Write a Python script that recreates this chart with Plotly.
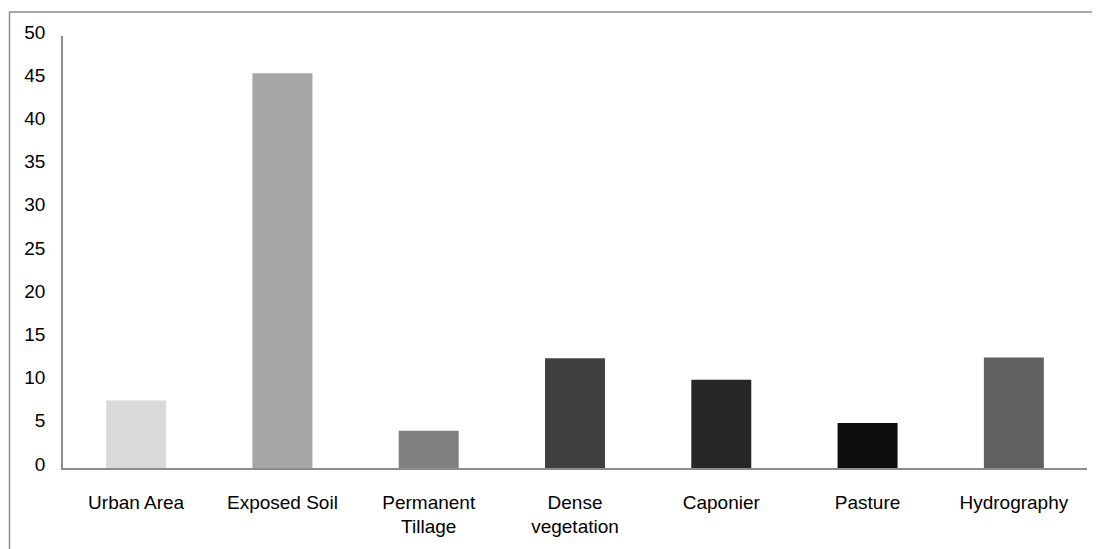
import plotly.graph_objects as go

categories = ["Urban Area", "Exposed Soil", "Permanent<br>Tillage", "Dense<br>vegetation",
              "Caponier", "Pasture", "Hydrography"]
values = [7.8, 45.7, 4.3, 12.7, 10.2, 5.2, 12.8]
bar_colors = ["#d9d9d9", "#a6a6a6", "#808080", "#404040", "#262626", "#0d0d0d", "#606060"]
y_ticks = [0, 5, 10, 15, 20, 25, 30, 35, 40, 45, 50]

# page body has an 8px default margin; figure is sized to fit the window
W, H = 1092, 541
ml, mr, mt, mb = 55, 13, 28, 71
pw, ph = W - ml - mr, H - mt - mb

fig = go.Figure(go.Bar(x=categories, y=values, marker=dict(color=bar_colors, line=dict(width=0)),
                       width=0.41))

def px_to_paper_x(px):
    return (px - ml) / pw

def px_to_paper_y(py):
    return (H - mb - py) / ph

fig.update_layout(
    width=W, height=H,
    margin=dict(l=ml, r=mr, t=mt, b=mb, pad=0),
    paper_bgcolor="white", plot_bgcolor="white",
    font=dict(family="Liberation Sans, Arial, sans-serif", size=19, color="#000000"),
    showlegend=False,
    bargap=0.59,
    xaxis=dict(showgrid=False, showline=True, linecolor="#8c8c8c", linewidth=1.5,
               ticks="", ticklabelstandoff=16, zeroline=False),
    yaxis=dict(range=[0, 50], tickvals=y_ticks, showgrid=False, showline=True,
               linecolor="#8c8c8c", linewidth=1.5, ticks="", ticklabelstandoff=12,
               ticklabelshift=-4, zeroline=False),
    shapes=[dict(type="rect", xref="paper", yref="paper",
                 x0=px_to_paper_x(1.5), x1=px_to_paper_x(1110),
                 y0=px_to_paper_y(560), y1=px_to_paper_y(3.5),
                 line=dict(color="#8c8c8c", width=1.5), fillcolor="rgba(0,0,0,0)", layer="below")],
)

fig.write_html("out.html")
